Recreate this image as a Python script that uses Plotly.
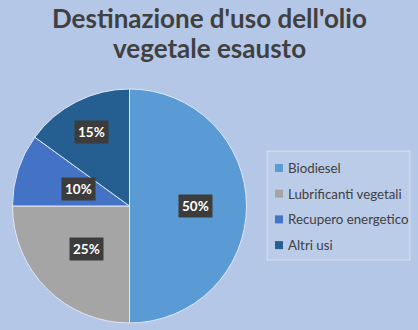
import math
import plotly.graph_objects as go

labels = ["Biodiesel", "Lubrificanti vegetali", "Recupero energetico", "Altri usi"]
values = [50, 25, 10, 15]
colors = ["#5b9bd5", "#a5a5a5", "#4472c4", "#255e91"]
title_lines = ["Destinazione d'uso dell'olio", "vegetale esausto"]

W, H = 418, 330
FONT = "Lato, Open Sans, sans-serif"
pcx, pcy, pr = 129.5, 206, 117  # pie centre / radius in pixels
dom_x = [(pcx - pr) / W, (pcx + pr) / W]
dom_y = [1 - (pcy + pr) / H, 1 - (pcy - pr) / H]

fig = go.Figure(go.Pie(
    labels=labels, values=values, sort=False, direction="clockwise", rotation=0,
    marker=dict(colors=colors, line=dict(color="#dfe7f5", width=1)),
    textinfo="none", hoverinfo="label+percent", showlegend=False,
    domain=dict(x=dom_x, y=dom_y),
))

# data label boxes placed at slice mid-angles
total = sum(values)
acc = 0
fr = [0.565, 0.52, 0.46, 0.71]
for i, v in enumerate(values):
    mid = (acc + v / 2) / total * 2 * math.pi
    acc += v
    px = pcx + math.sin(mid) * pr * fr[i]
    py = pcy - math.cos(mid) * pr * fr[i]
    fig.add_annotation(
        x=px / W, y=1 - py / H, xref="paper", yref="paper",
        xanchor="center", yanchor="middle",
        text=f"<b>{round(v / total * 100)}%</b>", showarrow=False,
        font=dict(family=FONT, size=13.5, color="white"),
        bgcolor="#3c3c3c", borderpad=3,
    )

# title
for j, line in enumerate(title_lines):
    fig.add_annotation(
        x=0.5, y=1 - (18 + 30 * j) / H, xref="paper", yref="paper",
        text=f"<b>{line}</b>", showarrow=False, xanchor="center", yanchor="middle",
        font=dict(family=FONT, size=26, color="#404040"),
    )

# custom legend
lx0, ly0, lx1, ly1 = 267, 151, 410, 260
fig.add_shape(type="rect", xref="paper", yref="paper",
              x0=lx0 / W, x1=lx1 / W, y0=1 - ly1 / H, y1=1 - ly0 / H,
              fillcolor="rgba(255,255,255,0.10)", line=dict(color="rgba(255,255,255,0.45)", width=1))
row0, step = 168, 25.7
for i, (lab, col) in enumerate(zip(labels, colors)):
    yc = row0 + i * step
    fig.add_shape(type="rect", xref="paper", yref="paper",
                  x0=275 / W, x1=283 / W, y0=1 - (yc + 4) / H, y1=1 - (yc - 4) / H,
                  fillcolor=col, line=dict(width=0))
    fig.add_annotation(
        x=286 / W, y=1 - yc / H, xref="paper", yref="paper",
        text=lab, showarrow=False, xanchor="left", yanchor="middle",
        font=dict(family=FONT, size=13.3, color="#404040"),
    )

fig.update_layout(
    width=W, height=H,
    paper_bgcolor="#b4c7e7", plot_bgcolor="#b4c7e7",
    margin=dict(l=0, r=0, t=0, b=0),
    showlegend=False,
)

fig.write_html("out.html")
